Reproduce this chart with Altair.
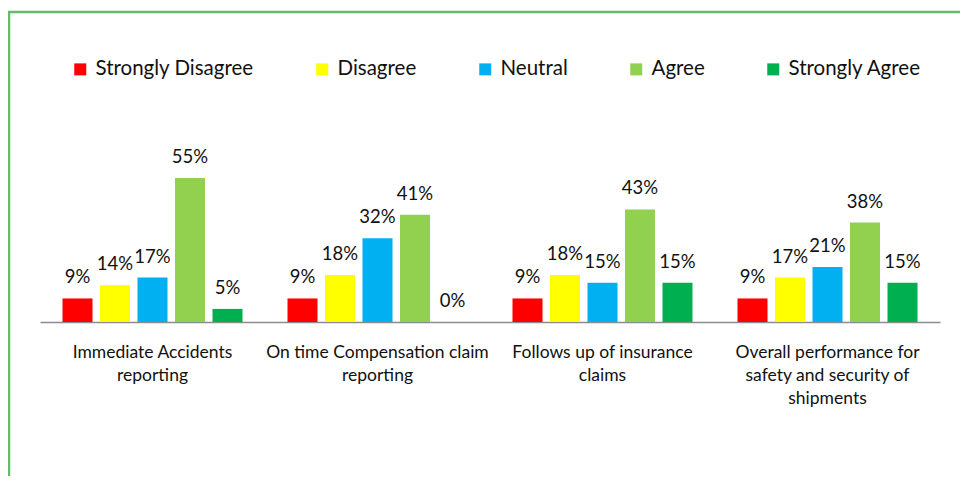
import altair as alt
import pandas as pd

# ---- data ----
categories = [
    "Immediate Accidents|reporting",
    "On time Compensation claim|reporting",
    "Follows up of insurance|claims",
    "Overall performance for|safety and security of|shipments",
]
responses = ["Strongly Disagree", "Disagree", "Neutral", "Agree", "Strongly Agree"]
colors = ["#FF0000", "#FFFF00", "#00B0F0", "#92D050", "#00B050"]

immediate_accidents = [9, 14, 17, 55, 5]
compensation_claim = [9, 18, 32, 41, 0]
insurance_claims = [9, 18, 15, 43, 15]
overall_performance = [9, 17, 21, 38, 15]
series = [immediate_accidents, compensation_claim, insurance_claims, overall_performance]

rows = []
for cat, vals in zip(categories, series):
    for resp, v in zip(responses, vals):
        rows.append({"category": cat, "response": resp, "value": v, "label": f"{v}%"})
df = pd.DataFrame(rows)

FONT = "Lato"
PLOT_W, PLOT_H = 900, 157
PAD_L, PAD_T = 32, 157
SVG_W, SVG_H = 952, 468

x_enc = alt.X(
    "category:N",
    sort=categories,
    scale=alt.Scale(paddingInner=0, paddingOuter=0),
    axis=alt.Axis(
        title=None,
        labelExpr="split(datum.value, '|')",
        labelAngle=0,
        ticks=False,
        domainColor="#8C8C8C",
        domainWidth=1.5,
        labelFont=FONT,
        labelFontSize=17.5,
        labelColor="#111111",
        labelPadding=21,
        labelLineHeight=23,
        labelBaseline="top",
        labelLimit=0,
    ),
)
xoff = alt.XOffset("response:N", sort=responses,
                   scale=alt.Scale(paddingInner=0.2, paddingOuter=0.6))
y_enc = alt.Y("value:Q", scale=alt.Scale(domain=[0, 60]), axis=None)

base = alt.Chart(df)

bars = base.mark_bar().encode(
    x=x_enc,
    xOffset=xoff,
    y=y_enc,
    color=alt.Color(
        "response:N",
        sort=responses,
        scale=alt.Scale(domain=responses, range=colors),
        legend=alt.Legend(
            title=None,
            orient="none",
            legendX=30,
            legendY=-106,
            direction="horizontal",
            columns=5,
            columnPadding=58,
            symbolType="square",
            symbolSize=144,
            symbolStrokeWidth=0,
            symbolOpacity=1,
            labelFont=FONT,
            labelFontSize=20.5,
            labelColor="#111111",
            labelOffset=5,
            padding=0,
        ),
    ),
)

labels = base.mark_text(
    baseline="alphabetic", dy=-15, font=FONT, fontSize=18.5, color="#111111"
).encode(
    x=x_enc,
    xOffset=xoff,
    y=y_enc,
    text="label:N",
)

frame_df = pd.DataFrame({"k": [0]})
border_color = "#66BB6A"
top_border = alt.Chart(frame_df).mark_rule(color=border_color, strokeWidth=2.5).encode(
    x=alt.value(-PAD_L), x2=alt.value(SVG_W - PAD_L), y=alt.value(4 - PAD_T)
)
left_border = alt.Chart(frame_df).mark_rule(color=border_color, strokeWidth=2.5).encode(
    x=alt.value(1 - PAD_L), y=alt.value(4 - PAD_T), y2=alt.value(SVG_H - PAD_T)
)

chart = (
    alt.layer(bars, labels, top_border, left_border)
    .properties(
        width=PLOT_W,
        height=PLOT_H,
        autosize=alt.AutoSizeParams(type="none"),
        padding={"left": PAD_L, "top": PAD_T, "right": SVG_W - PAD_L - PLOT_W,
                 "bottom": SVG_H - PAD_T - PLOT_H},
        background="white",
    )
    .configure_view(stroke=None)
)

chart.save("out.html", embed_options={"renderer": "svg", "actions": False})
